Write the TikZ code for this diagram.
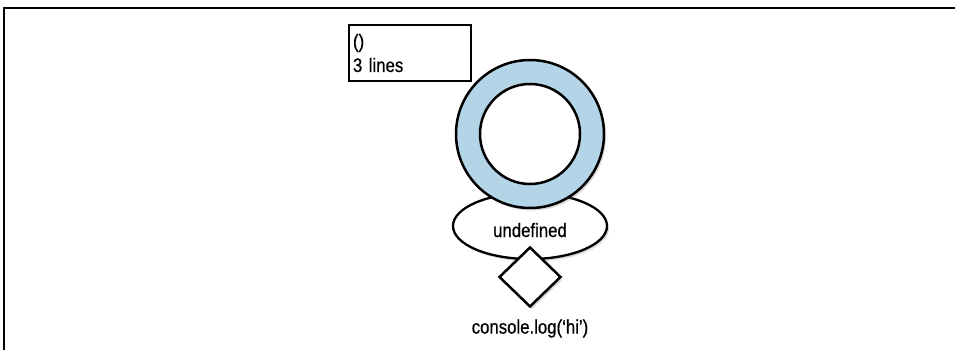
\documentclass[tikz,border=0pt]{standalone}
\usepackage{fontspec}
\setmainfont[FakeStretch=0.86, FakeBold=0.6]{Liberation Sans}
\usepackage{tikz}
\usetikzlibrary{positioning}
\usetikzlibrary{shapes.geometric}
\usetikzlibrary{shadows}
\definecolor{ringblue}{RGB}{180,212,232}

\begin{document}
\begin{tikzpicture}[x=1pt, y=-1pt,
		every node/.style={font=\fontsize{19.5}{24}\selectfont},
		shd/.style={drop shadow={shadow xshift=2pt, shadow yshift=-2.5pt, opacity=0.3}},
		retval/.style={ellipse, draw, line width=2.3pt, fill=white, shd, minimum width=154, minimum height=66, inner sep=0},
		ringout/.style={circle, draw, line width=2.5pt, fill=ringblue, shd, minimum size=148, inner sep=0},
		ringin/.style={circle, draw, line width=2.5pt, fill=white, minimum size=100, inner sep=0},
		callbox/.style={diamond, draw, line width=2.5pt, fill=white, shd, minimum width=62, minimum height=60, inner sep=0},
		infobox/.style={rectangle, draw, line width=2pt, align=left, text width=114, minimum width=122, minimum height=56, inner sep=3}]
		\useasboundingbox (0,0) rectangle (955,350);
		\draw[line width=1.5pt] (955,8) -- (4,8) -- (4,350);
		\node[infobox, anchor=north west] (info) at (348,24) {()\\3 lines};
		\node[retval] (undef) at (530,226) {};
		\node[inner sep=0, anchor=base] (undeftxt) at (530,237) {undefined};
		\node[ringout] (ring) at (530,134) {};
		\node[ringin] (hole) at (ring.center) {};
		\node[callbox] (call) at (530,277) {};
		\node[inner sep=0, below=11pt of call] (calltxt) {console.log(‘hi’)};
		\end{tikzpicture}
\end{document}
